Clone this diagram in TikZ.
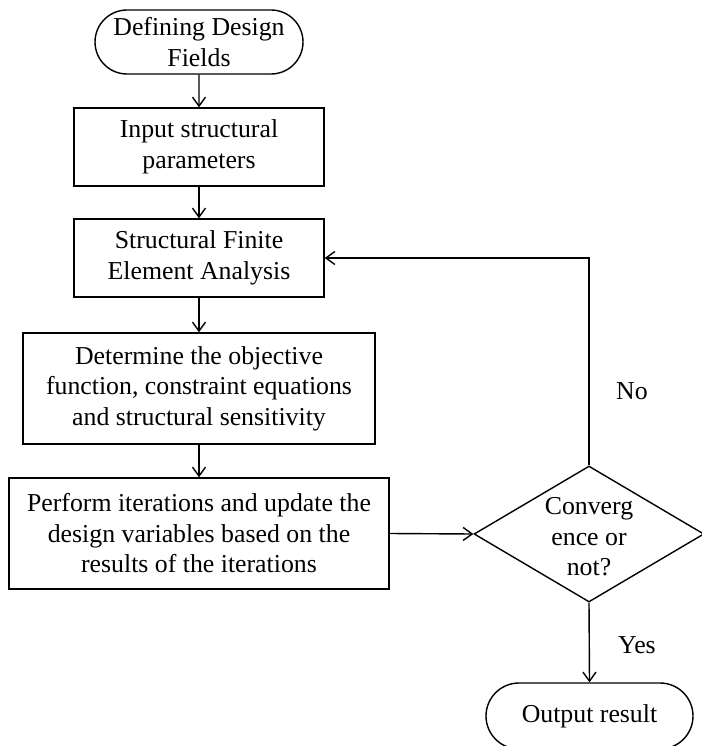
\documentclass[tikz,border=0pt]{standalone}
\usepackage{fontspec}
\setmainfont{Liberation Serif}
\usetikzlibrary{arrows.meta,shapes.misc,shapes.geometric}
\begin{document}
\begin{tikzpicture}[x=1pt,y=-1pt,
  every node/.style={font=\fontsize{25.8}{30.5}\selectfont, align=center},
  box/.style={draw, line width=1.4pt, rectangle, inner sep=0pt},
  term/.style={draw, line width=1.4pt, rounded rectangle, inner sep=0pt},
  arr/.style={draw, line width=1.4pt, -{Straight Barb[length=9pt,width=13pt,line width=1.4pt]}},
  lbl/.style={inner sep=0pt}]
\useasboundingbox (0,0) rectangle (701,746);
\node[term, minimum width=208pt, minimum height=64pt] (start) at (199,42) {Defining Design\\Fields};
\node[box, minimum width=250pt, minimum height=78pt] (b1) at (199,147) {Input structural\\parameters};
\node[box, minimum width=250pt, minimum height=78pt] (b2) at (199,258) {Structural Finite\\Element Analysis};
\node[box, minimum width=352pt, minimum height=111pt] (b3) at (199,388.5) {Determine the objective\\function, constraint equations\\and structural sensitivity};
\node[box, minimum width=380pt, minimum height=111pt] (b4) at (199,533.5) {Perform iterations and update the\\design variables based on the\\results of the iterations};
\node[diamond, draw, line width=1.4pt, minimum width=230pt, minimum height=136pt, inner sep=0pt] (dia) at (589,534) {};
\node[lbl] (diat) at (589,537) {Converg\\ence or\\not?};
\node[term, minimum width=207pt, minimum height=66pt] (out) at (589.5,716) {Output result};
\node[lbl] (no) at (632,391) {No};
\node[lbl] (yes) at (637,645) {Yes};
\draw[arr] (start) -- (b1);
\draw[arr] (b1) -- (b2);
\draw[arr] (b2) -- (b3);
\draw[arr] (b3) -- (b4);
\draw[arr] (b4.east) -- (dia.west);
\draw[arr] (dia.north) |- (b2.east);
\draw[arr] (dia.south) -- (out.north);
\end{tikzpicture}
\end{document}
